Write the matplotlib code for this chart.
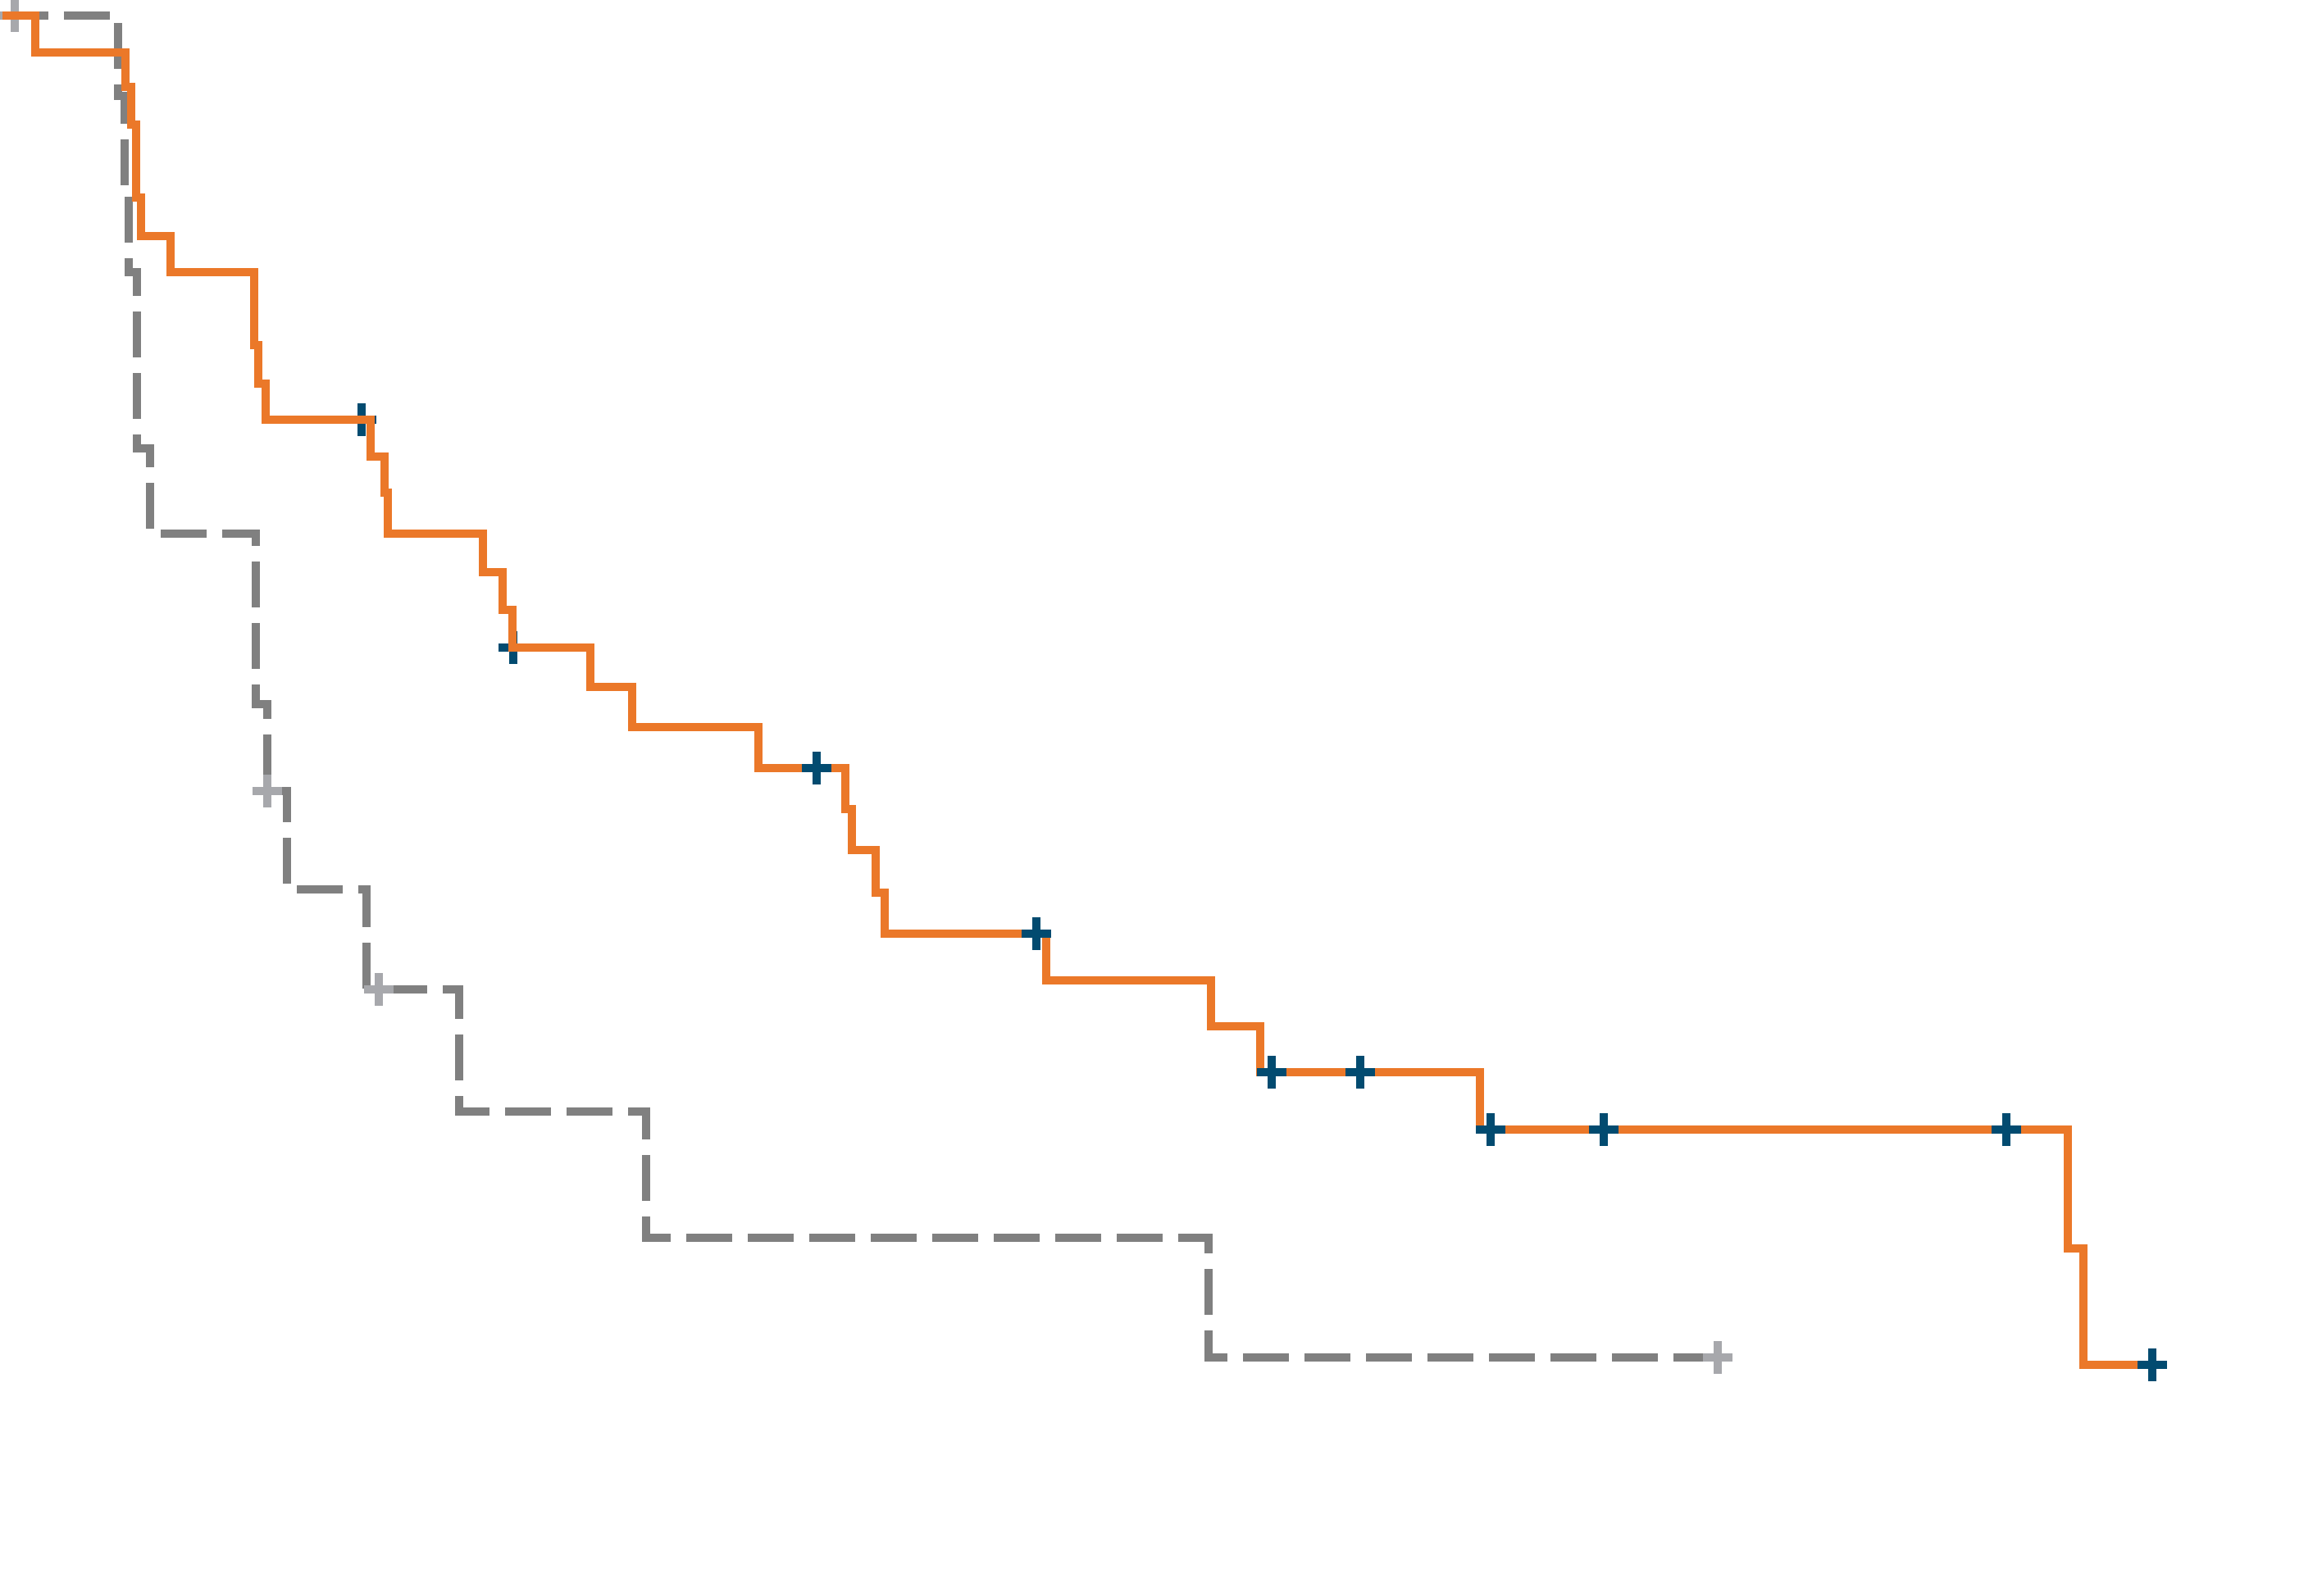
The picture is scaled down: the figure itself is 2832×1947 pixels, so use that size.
import matplotlib
matplotlib.use('Agg')
import matplotlib.pyplot as plt
from matplotlib.path import Path

# step curves: time (months) and survival
orange_times = [0, 2.02, 7.49, 7.85, 8.15, 8.47, 10.24, 15.35, 15.6, 16.05,
                22.47, 23.29, 23.5, 29.29, 30.49, 31.12, 35.84, 38.39, 46.12,
                51.4, 51.78, 53.24, 53.81, 63.65, 73.68, 76.72, 90.1,
                125.95, 126.9, 131.1]
orange_surv = [1.0, 0.976, 0.953, 0.928, 0.880, 0.855, 0.831, 0.783, 0.758, 0.734,
               0.710, 0.686, 0.659, 0.634, 0.609, 0.584, 0.558, 0.532, 0.505,
               0.478, 0.451, 0.423, 0.396, 0.365, 0.335, 0.305, 0.267,
               0.189, 0.112, 0.112]
# the first two ticks sit under the orange line in the picture
orange_cens_under_t = [21.89, 31.15]
orange_cens_under_s = [0.734, 0.584]
orange_cens_t = [49.67, 63.05, 77.4, 82.8, 90.75, 97.65, 122.2, 131.1]
orange_cens_s = [0.505, 0.396, 0.305, 0.305, 0.267, 0.267, 0.267, 0.112]

gray_times = [0, 7.05, 7.43, 7.69, 8.19, 8.99, 15.43, 16.15, 17.35, 22.2,
              27.83, 39.24, 73.55, 104.6]
gray_surv = [1.0, 0.947, 0.886, 0.831, 0.715, 0.659, 0.547, 0.490, 0.425, 0.359,
             0.279, 0.196, 0.117, 0.117]
gray_cens_t = [0.735, 16.15, 22.95, 104.6]
gray_cens_s = [1.0, 0.490, 0.359, 0.117]

orange = '#EB7829'
navy = '#024B70'
gray = '#808080'
light_gray = '#A7A8AC'

plus = Path([(-0.9, 0), (0.9, 0), (0, -1), (0, 1)],
            [Path.MOVETO, Path.LINETO, Path.MOVETO, Path.LINETO])

fig = plt.figure(figsize=(28.32, 19.47), dpi=100)
ax = fig.add_axes([0, 0, 1, 1])
ax.axis('off')

marker_kw = dict(linestyle='none', marker=plus, ms=28.1, mew=7.2, mfc='none')

ax.plot(gray_times, gray_surv, drawstyle='steps-post', color=gray, lw=7.2,
        dashes=(5.6, 1.9), dash_capstyle='butt', dash_joinstyle='miter', zorder=1)
ax.plot(gray_cens_t, gray_cens_s, mec=light_gray, zorder=2, **marker_kw)
ax.plot(orange_cens_under_t, orange_cens_under_s, mec=navy, zorder=2.5, **marker_kw)
ax.plot(orange_times, orange_surv, drawstyle='steps-post', color=orange, lw=7.2,
        solid_capstyle='butt', solid_joinstyle='miter', zorder=3)
ax.plot(orange_cens_t, orange_cens_s, mec=navy, zorder=4, **marker_kw)

ax.set_xlim(-0.15, 141.45)
ax.set_ylim(-0.0399, 1.01025)

fig.savefig('out.png', dpi=100, facecolor='white')
